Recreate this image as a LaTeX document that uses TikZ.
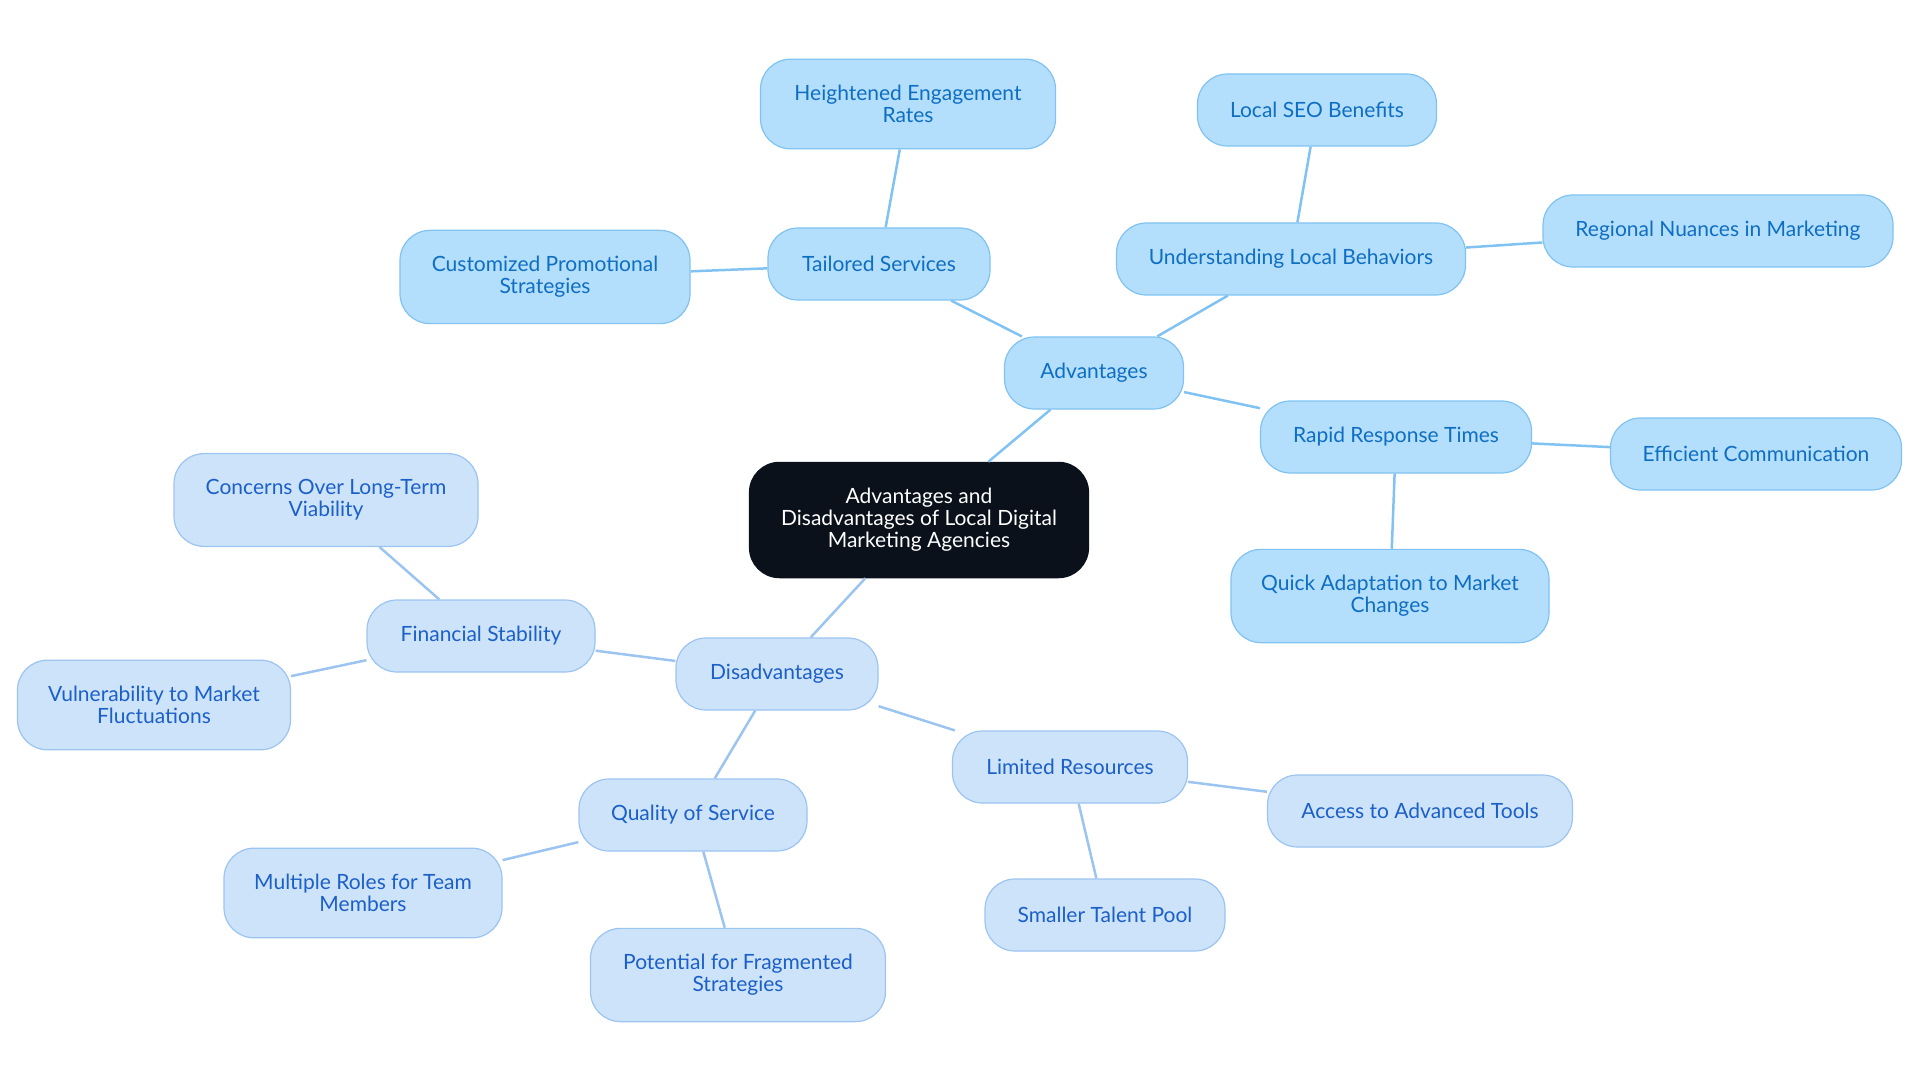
\documentclass[tikz,border=0pt]{standalone}
\usepackage{fontspec}
\setmainfont{Lato}
\usetikzlibrary{shapes,arrows}
\usepackage{color}

\definecolor{advfill}{HTML}{B3DEFC}
\definecolor{advdraw}{HTML}{80C3F2}
\definecolor{advtext}{HTML}{0E6EC2}
\definecolor{disfill}{HTML}{CDE3FA}
\definecolor{disdraw}{HTML}{9CC4F1}
\definecolor{distext}{HTML}{1B5FC9}
\definecolor{rootfill}{HTML}{0B111A}

\begin{document}
\begin{tikzpicture}[x=1pt,y=-1pt]
    % Define styles
    \tikzstyle{topic} = [rectangle, rounded corners=30pt, text centered, align=center, inner xsep=10pt, inner ysep=26pt, minimum height=72pt, font=\fontsize{21}{22}\selectfont, line width=1.2pt]
    \tikzstyle{root} = [topic, fill=rootfill, draw=rootfill, text=white]
    \tikzstyle{adv} = [topic, fill=advfill, draw=advdraw, text=advtext]
    \tikzstyle{dis} = [topic, fill=disfill, draw=disdraw, text=distext]
    \tikzstyle{advlink} = [line width=2.5pt, draw=advdraw]
    \tikzstyle{dislink} = [line width=2.5pt, draw=disdraw]

    \useasboundingbox (0,0) rectangle (1920,1083);

    % Root
    \node [root, minimum width=339pt] (root) at (919,520) {Advantages and\\Disadvantages of Local Digital\\Marketing Agencies};

    % Advantages
    \node [adv, minimum width=179pt] (adv) at (1094,373) {Advantages};
    \node [adv, minimum width=222pt] (tailored) at (879,264) {Tailored Services};
    \node [adv, minimum width=295pt] (engagement) at (908,104) {Heightened Engagement\\Rates};
    \node [adv, minimum width=290pt] (promo) at (545,277) {Customized Promotional\\Strategies};
    \node [adv, minimum width=349pt] (behaviors) at (1291,259) {Understanding Local Behaviors};
    \node [adv, minimum width=239pt] (seo) at (1317,110) {Local SEO Benefits};
    \node [adv, minimum width=350pt] (regional) at (1718,231) {Regional Nuances in Marketing};
    \node [adv, minimum width=271pt] (rapid) at (1396,437) {Rapid Response Times};
    \node [adv, minimum width=291pt] (communication) at (1756,454) {Efficient Communication};
    \node [adv, minimum width=318pt] (adaptation) at (1390,596) {Quick Adaptation to Market\\Changes};

    % Disadvantages
    \node [dis, minimum width=202pt] (dis) at (777,674) {Disadvantages};
    \node [dis, minimum width=228pt] (financial) at (481,636) {Financial Stability};
    \node [dis, minimum width=304pt] (viability) at (326,500) {Concerns Over Long-Term\\Viability};
    \node [dis, minimum width=273pt] (fluctuations) at (154,705) {Vulnerability to Market\\Fluctuations};
    \node [dis, minimum width=228pt] (quality) at (693,815) {Quality of Service};
    \node [dis, minimum width=278pt] (roles) at (363,893) {Multiple Roles for Team\\Members};
    \node [dis, minimum width=295pt] (fragmented) at (738,975) {Potential for Fragmented\\Strategies};
    \node [dis, minimum width=235pt] (limited) at (1070,767) {Limited Resources};
    \node [dis, minimum width=305pt] (tools) at (1420,811) {Access to Advanced Tools};
    \node [dis, minimum width=240pt] (talent) at (1105,915) {Smaller Talent Pool};

    % Connections
    \draw [advlink] (root) -- (adv);
    \draw [advlink] (adv) -- (tailored);
    \draw [advlink] (tailored) -- (engagement);
    \draw [advlink] (tailored) -- (promo);
    \draw [advlink] (adv) -- (behaviors);
    \draw [advlink] (behaviors) -- (seo);
    \draw [advlink] (behaviors) -- (regional);
    \draw [advlink] (adv) -- (rapid);
    \draw [advlink] (rapid) -- (communication);
    \draw [advlink] (rapid) -- (adaptation);
    \draw [dislink] (root) -- (dis);
    \draw [dislink] (dis) -- (financial);
    \draw [dislink] (financial) -- (viability);
    \draw [dislink] (financial) -- (fluctuations);
    \draw [dislink] (dis) -- (quality);
    \draw [dislink] (quality) -- (roles);
    \draw [dislink] (quality) -- (fragmented);
    \draw [dislink] (dis) -- (limited);
    \draw [dislink] (limited) -- (tools);
    \draw [dislink] (limited) -- (talent);
\end{tikzpicture}
\end{document}
